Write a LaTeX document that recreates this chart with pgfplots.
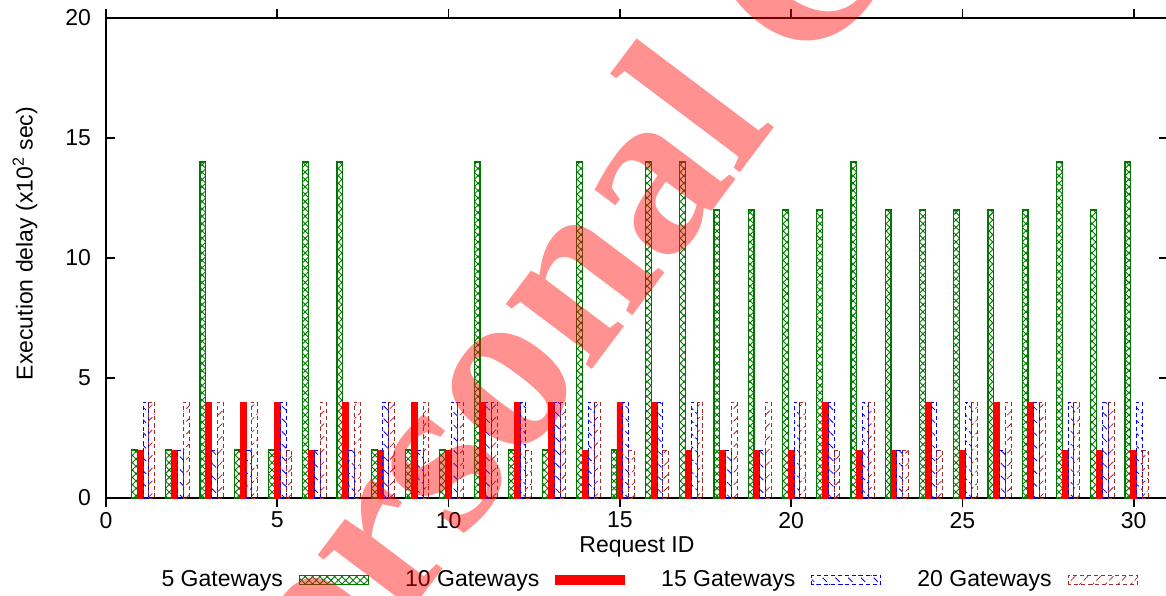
\documentclass[border=0pt]{standalone}
\usepackage{fontspec}
\setmainfont{Liberation Sans}
\newfontfamily\wmfont{Liberation Serif}
\usepackage{pgfplots}
\usepackage{pgfplotstable}
\pgfplotsset{compat=1.18}
\usetikzlibrary{patterns,patterns.meta}

\definecolor{gpgreen}{RGB}{0,120,0}
\definecolor{gpbrown}{RGB}{165,42,42}

% execution delay (x10^2 sec) per request, for 5/10/15/20 gateways
\pgfplotstableread{
id g5 g10 g15 g20
1  2  2 4 4
2  2  2 2 4
3  14 4 2 4
4  2  4 2 4
5  2  4 4 2
6  14 2 2 4
7  14 4 2 4
8  2  2 4 4
9  2  4 2 4
10 2  2 4 4
11 14 4 4 4
12 2  4 4 2
13 2  4 4 4
14 14 2 4 4
15 2  4 4 2
16 14 4 4 2
17 14 2 4 4
18 12 2 2 4
19 12 2 2 4
20 12 2 4 4
21 12 4 4 2
22 14 2 4 4
23 12 2 2 2
24 12 4 4 2
25 12 2 4 4
26 12 4 2 4
27 12 4 4 4
28 14 2 4 4
29 12 2 4 4
30 14 2 4 2
}\delays

\begin{document}
\begin{tikzpicture}
\begin{axis}[
  scale only axis,
  width=531pt, height=240pt,
  xmin=0, xmax=31, ymin=0, ymax=20,
  xtick={0,5,...,30}, ytick={0,5,...,20},
  minor tick num=0,
  tick align=inside, tick pos=both,
  major tick length=4.5pt,
  axis line style={line width=1pt},
  tick style={line width=0.9pt, black},
  font=\fontsize{11.5}{13}\selectfont,
  /pgf/number format/assume math mode=true,
  yticklabel style={xshift=-4pt},
  xticklabel style={yshift=1pt},
  xlabel={Request ID},
  ylabel={Execution delay (x10\textsuperscript{2} sec)},
  xlabel style={at={(axis description cs:0.5,-0.102)}, anchor=center},
  ylabel style={at={(axis description cs:-0.0763,0.53)}, anchor=center},
  ybar, bar width=0.17,
  gpbox/.style={legend image code/.code={
      \draw[##1] (0pt,-2.3pt) rectangle (34.5pt,2.3pt);}},
  legend columns=4,
  legend plot pos=right,
  legend style={at={(axis description cs:0.51,-0.171)}, anchor=center,
    draw=none, fill=none,
    /tikz/every odd column/.append style={column sep=6pt},
    /tikz/every even column/.append style={column sep=16pt}},
]
\addplot[draw=gpgreen, line width=0.6pt,
  pattern={Hatch[angle=45,distance=2.6pt,line width=0.45pt]}, pattern color=gpgreen,
  bar shift=-0.17, gpbox] table[x=id,y=g5] {\delays};
\addlegendentry{5 Gateways}
\addplot[draw=red, fill=red, bar shift=0, gpbox] table[x=id,y=g10] {\delays};
\addlegendentry{10 Gateways}
\addplot[draw=blue, line width=0.5pt, dash pattern=on 2pt off 1.5pt,
  pattern={Lines[angle=-45,distance=4.5pt,line width=0.4pt]}, pattern color=blue,
  bar shift=0.17, gpbox] table[x=id,y=g15] {\delays};
\addlegendentry{15 Gateways}
\addplot[draw=gpbrown, line width=0.5pt, dash pattern=on 2pt off 1.5pt,
  pattern={Lines[angle=45,distance=4.5pt,line width=0.4pt]}, pattern color=gpbrown,
  bar shift=0.34, gpbox] table[x=id,y=g20] {\delays};
\addlegendentry{20 Gateways}
\coordinate (bl) at (rel axis cs:0,0);
\coordinate (tr) at (rel axis cs:1,1);
\coordinate (wm) at (axis cs:4.22,-13.56);
\end{axis}
% watermark over the chart
\node[anchor=base west, rotate=53, inner sep=0pt, text=red, text opacity=0.43,
  font=\wmfont\bfseries\fontsize{117.5}{117.5}\selectfont] at (wm) {Personal Copy};
\pgfresetboundingbox
\path[use as bounding box] ([xshift=-53pt,yshift=-48.5pt]bl) rectangle ([xshift=-1pt,yshift=9pt]tr);
\end{tikzpicture}
\end{document}
